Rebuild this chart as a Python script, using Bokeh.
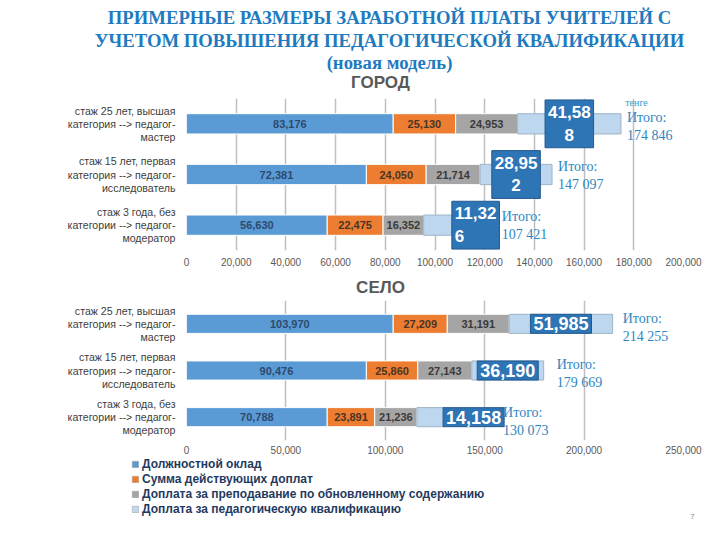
import numpy as np
import pandas as pd
from bokeh.plotting import figure
from bokeh.models import (ColumnDataSource, FactorRange, Range1d, FixedTicker,
                          NumeralTickFormatter, Label)
from bokeh.layouts import column
from bokeh.embed import file_html
from bokeh.resources import INLINE
from bokeh.core.properties import value

# ---------------- data ----------------
categories = [
    "стаж 25 лет, высшая\nкатегория --> педагог-\nмастер",
    "стаж 15 лет, первая\nкатегория --> педагог-\nисследователь",
    "стаж 3 года, без\nкатегории --> педагог-\nмодератор",
]
series_names = [
    "Должностной оклад",
    "Сумма действующих доплат",
    "Доплата за преподавание по обновленному содержанию",
    "Доплата за педагогическую квалификацию",
]

city_salary = [83176, 72381, 56630]
city_bonus = [25130, 24050, 22475]
city_updated = [24953, 21714, 16352]
city_qual = [41588, 28952, 11326]
city_totals = ["174 846", "147 097", "107 421"]

village_salary = [103970, 90476, 70788]
village_bonus = [27209, 25860, 23891]
village_updated = [31191, 27143, 21236]
village_qual = [51985, 36190, 14158]
village_totals = ["214 255", "179 669", "130 073"]

city_ticks = [0, 20000, 40000, 60000, 80000, 100000, 120000, 140000, 160000, 180000, 200000]
village_ticks = [0, 50000, 100000, 150000, 200000, 250000]

title_lines = ["ПРИМЕРНЫЕ РАЗМЕРЫ ЗАРАБОТНОЙ ПЛАТЫ УЧИТЕЛЕЙ С",
               "УЧЕТОМ ПОВЫШЕНИЯ ПЕДАГОГИЧЕСКОЙ КВАЛИФИКАЦИИ",
               "(новая модель)"]

# ---------------- styles ----------------
colors = ["#5b9bd5", "#ed7d31", "#a5a5a5", "#bdd7ee"]
outline = ["#ffffff", "#ffffff", "#ffffff", "#9fb4c8"]
seg_text_colors = ["#2c4a6e", "#4a3526", "#3a3a3a"]
box_fill = "#2e75b6"
box_line = "#23598f"
total_color = "#2e86c1"
title_color = "#1f7bbf"
SANS = "Liberation Sans"
SERIF = "Liberation Serif"
W = 720


def canvas(height):
    """A plain drawing area whose frame covers the whole canvas (pixel coords, y down)."""
    c = figure(width=W, height=height, x_range=Range1d(0, W), y_range=Range1d(height, 0),
               min_border=0, x_axis_location=None, y_axis_location=None,
               output_backend="svg", toolbar_location=None, frame_align=False)
    c.grid.visible = False
    c.outline_line_color = None
    c.background_fill_color = "white"
    c.border_fill_color = "white"
    return c


def stacked_chart(values, totals, ticks, xmax, frame_h, border_bottom, label_standoff,
                  bar_h, wrap_box, box_font, total_font, last_box_dx, total_dx, total_dy):
    arr = np.array(values, dtype=float)
    cum = np.cumsum(arr, axis=0)
    starts = cum - arr
    mids = starts + arr / 2

    df = pd.DataFrame({"cat": categories})
    for i in range(4):
        df[f"s{i}"] = arr[i]
    src = ColumnDataSource(df)

    p = figure(y_range=FactorRange(*reversed(categories)), x_range=Range1d(0, xmax),
               frame_width=497, frame_height=frame_h,
               min_border_left=186, min_border_right=37,
               min_border_top=0, min_border_bottom=border_bottom,
               output_backend="svg", toolbar_location=None, frame_align=False)
    p.outline_line_color = None
    p.background_fill_color = "white"
    p.border_fill_color = "white"

    p.hbar_stack([f"s{i}" for i in range(4)], y="cat", height=bar_h,
                 fill_color=colors, line_color=outline, line_width=1, source=src)

    # segment value labels
    for i in range(3):
        p.text(x=mids[i], y=categories, text=[f"{int(v):,}" for v in arr[i]],
               text_align="center", text_baseline="middle",
               text_font=value(SANS), text_font_style="bold", text_font_size="11px",
               text_color=seg_text_colors[i])

    # boxed labels for the qualification segment
    for j in range(3):
        t = f"{int(arr[3][j]):,}"
        if wrap_box:
            t = t[:-1] + "\n" + t[-1]
        if j < 2:
            x, align, dx = mids[3][j], "center", 0
        else:
            x, align, dx = cum[3][j], "left", last_box_dx
        p.text(x=[x], y=[categories[j]], text=[t], text_align=align, text_baseline="middle",
               x_offset=dx,
               text_font=value(SANS), text_font_style="bold", text_font_size=box_font,
               text_color="white", text_line_height=1.2,
               background_fill_color=box_fill, border_line_color=box_line,
               border_line_width=1, padding=3)

    # totals
    for j in range(3):
        p.text(x=[cum[3][j]], y=[categories[j]], text=["Итого:\n" + totals[j]],
               x_offset=total_dx[j], y_offset=total_dy[j],
               text_align="left", text_baseline="middle",
               text_font=value(SERIF), text_font_size=total_font,
               text_color=total_color, text_line_height=1.2)

    p.xaxis.ticker = FixedTicker(ticks=ticks)
    p.xaxis.formatter = NumeralTickFormatter(format="0,0")
    p.xaxis.axis_line_color = None
    p.xaxis.major_tick_line_color = None
    p.xaxis.minor_tick_line_color = None
    p.xaxis.major_tick_out = 0
    p.xaxis.major_label_standoff = label_standoff
    p.xaxis.major_label_text_font = SANS
    p.xaxis.major_label_text_font_size = "10px"
    p.xaxis.major_label_text_color = "#595959"

    p.yaxis.axis_line_color = None
    p.yaxis.major_tick_line_color = None
    p.yaxis.major_tick_out = 0
    p.yaxis.major_label_standoff = 11
    p.yaxis.major_label_text_align = "center"
    p.yaxis.major_label_text_font = SANS
    p.yaxis.major_label_text_font_size = "10.6px"
    p.yaxis.major_label_text_line_height = 1.1
    p.yaxis.major_label_text_color = "#404040"

    p.ygrid.grid_line_color = None
    p.xgrid.ticker = FixedTicker(ticks=ticks)
    p.xgrid.grid_line_color = "#bfbfbf"
    p.xgrid.grid_line_width = 1.5
    return p


# ---- header ----
header = canvas(98)
for txt, y in zip(title_lines, [17, 40, 62]):
    header.add_layout(Label(x=389, y=y, text=txt, text_align="center", text_baseline="middle",
                            text_font=SERIF, text_font_style="bold", text_font_size="18.7px",
                            text_color=title_color))
header.add_layout(Label(x=380, y=82, text="ГОРОД", text_align="center", text_baseline="middle",
                        text_font=SANS, text_font_style="bold", text_font_size="17px",
                        text_color="#595959"))

# ---- city chart ----
top = stacked_chart([city_salary, city_bonus, city_updated, city_qual], city_totals,
                    city_ticks, 200000, 152, 25, 7, 0.4, True, "17px", "14px",
                    0, [6, 6, 50], [3, 1, 0])
top.add_layout(Label(x=450, y=148, x_units="screen", y_units="screen", text="тенге",
                     text_align="center", text_baseline="middle", text_font=SERIF,
                     text_font_size="10px", text_color="#2e9fd0"))

# ---- village heading ----
mid = canvas(25)
mid.add_layout(Label(x=380, y=12, text="СЕЛО", text_align="center", text_baseline="middle",
                     text_font=SANS, text_font_style="bold", text_font_size="17px",
                     text_color="#595959"))

# ---- village chart ----
bottom = stacked_chart([village_salary, village_bonus, village_updated, village_qual],
                       village_totals, village_ticks, 250000, 140, 17, 5, 0.41,
                       False, "18px", "14px", -2, [10, 13, 58], [4, 3, 4])

# ---- legend (swatch-only renderers carry no visible data) ----
leg = canvas(83)
for name, c in zip(series_names, colors):
    leg.hbar(y=[np.nan], right=[np.nan], height=1, fill_color=c, line_color="#9a9a9a",
             line_width=0.5, legend_label=name)
leg.legend.location = (131, 24)
leg.legend.orientation = "vertical"
leg.legend.glyph_width = 8
leg.legend.glyph_height = 8
leg.legend.label_standoff = 3
leg.legend.spacing = 1
leg.legend.label_height = 13
leg.legend.padding = 0
leg.legend.margin = 0
leg.legend.border_line_color = None
leg.legend.background_fill_alpha = 0
leg.legend.label_text_font = SANS
leg.legend.label_text_font_style = "bold"
leg.legend.label_text_font_size = "12px"
leg.legend.label_text_color = "#1f3a5f"
leg.add_layout(Label(x=692, y=59, text="7", text_align="center", text_baseline="middle",
                     text_font=SANS, text_font_size="8px", text_color="#8c8c8c"))

layout = column(header, top, mid, bottom, leg, spacing=0)
open("out.html", "w").write(file_html(layout, INLINE))
